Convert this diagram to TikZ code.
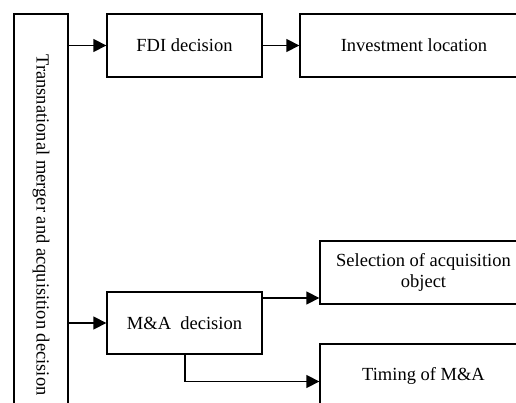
\documentclass[tikz,border=0pt]{standalone}
\usepackage{fontspec}
\setmainfont{Liberation Serif}
\usetikzlibrary{arrows.meta,positioning}
\begin{document}
\begin{tikzpicture}[x=1pt,y=-1pt,
  box/.style={draw,line width=1.3pt,inner sep=0pt,align=center,font=\fontsize{18.5}{21}\selectfont},
  arr/.style={line width=1.3pt,-{Triangle[length=13pt,width=13pt]}}]
\useasboundingbox (0,0) rectangle (516,403);
\clip (0,0) rectangle (516,403);
\node[box,minimum width=54pt,minimum height=422pt] (L) at (41,225) {};
\node[font=\fontsize{18.5}{21}\selectfont] (Lt) at (L.center) {\rotatebox{-90}{Transnational merger and acquisition decision}};
\node[box,minimum width=155pt,minimum height=63pt] (F) at (184.5,45.5) {FDI decision};
\node[box,minimum width=228pt,minimum height=63pt] (I) at (414,45.5) {Investment location};
\node[box,minimum width=155pt,minimum height=62pt] (M) at (184.5,323) {M\&A\ \ decision};
\node[box,minimum width=207pt,minimum height=63pt] (S) at (423.5,272.5) {Selection of acquisition\\object};
\node[box,minimum width=207pt,minimum height=63pt] (T) at (423.5,375.5) {Timing of M\&A};
\coordinate (c1) at (185,381.5);
\draw[arr] (L.east |- F.west) -- (F.west);
\draw[arr] (F.east) -- (I.west);
\draw[arr] (L.east |- M.west) -- (M.west);
\draw[arr] (M.east |- 0,298) -- (S.west |- 0,298);
\draw[arr] (M.south -| c1) -- (c1) -- (T.west |- c1);
\end{tikzpicture}
\end{document}
